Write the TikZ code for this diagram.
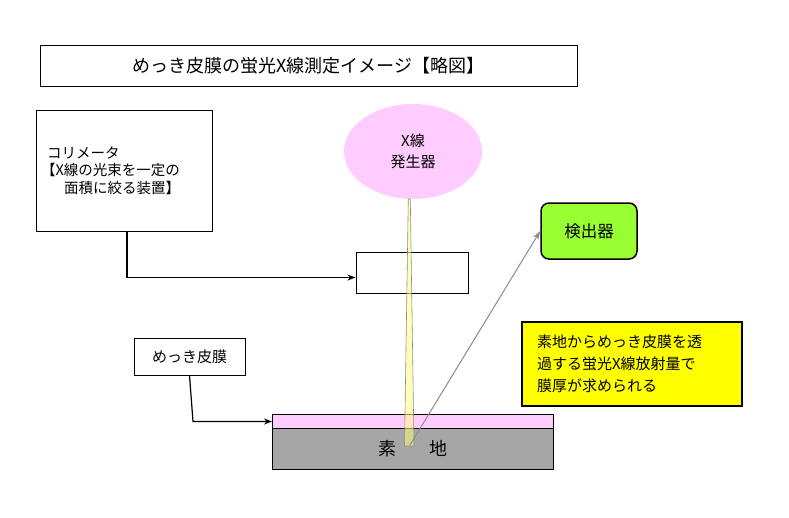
\documentclass[tikz,border=0pt]{standalone}
\usepackage{fontspec}
\setmainfont{Noto Sans CJK JP}
\usetikzlibrary{arrows.meta,shapes.geometric}
\definecolor{pinkfill}{HTML}{FFCCFF}
\definecolor{basegray}{HTML}{A6A6A6}
\definecolor{detgreen}{HTML}{99FF33}
\definecolor{noteyellow}{HTML}{FFFF00}
\definecolor{beamyellow}{HTML}{FFFF80}
\definecolor{linegray}{HTML}{8C8C8C}
\begin{document}
\begin{tikzpicture}[x=1pt,y=-1pt,
  box/.style={draw=black, line width=1pt, fill=white, inner sep=0pt},
  arr/.style={-{Stealth[length=8pt,width=6pt]}, line width=1.2pt, black},
  txt/.style={font=\fontsize{15}{22}\selectfont}]
\useasboundingbox (0,0) rectangle (789,517);
\fill[white] (0,0) rectangle (789,517);

% title
\node[box, minimum width=537, minimum height=41, font=\fontsize{18}{20}\selectfont] (title) at (308.5,65.5) {めっき皮膜の蛍光X線測定イメージ【略図】};

% collimator box
\node[box, minimum width=176, minimum height=121, text width=160, inner xsep=8pt, align=left,
  font=\fontsize{14.5}{17.5}\selectfont] (coll) at (124,170.5)
  {\hspace*{3pt}コリメータ\\\hspace*{-3pt}【X線の光束を一定の\\\hspace*{20pt}面積に絞る装置】\\[3pt]};

% aperture
\node[box, minimum width=112, minimum height=41] (ap) at (412,272.5) {};

% X-ray generator
\node[fill=pinkfill, ellipse, minimum width=138, minimum height=95, inner sep=0pt, align=center,
  font=\fontsize{15}{21}\selectfont] (gen) at (413,151.5) {X線\\発生器};

% detector
\node[draw=black, line width=1.5pt, fill=detgreen, rounded corners=8pt, minimum width=96, minimum height=56,
  font=\fontsize{16.5}{20}\selectfont] (det) at (589,231) {検出器};

% note box
\node[draw=black, line width=2pt, fill=noteyellow, minimum width=220, minimum height=84,
  text width=190, inner xsep=15pt, align=left, txt] (note) at (632,364)
  {素地からめっき皮膜を透\\過する蛍光X線放射量で\\膜厚が求められる};

% plating label
\node[box, minimum width=111, minimum height=37, txt] (mk) at (189.5,356.5) {めっき皮膜};

% layers
\node[draw=black, line width=1pt, fill=pinkfill, minimum width=281, minimum height=14, inner sep=0pt, anchor=north west] (layer) at (272,414) {};
\node[draw=black, line width=1pt, fill=basegray, minimum width=281, minimum height=41, inner sep=0pt, anchor=north west,
  font=\fontsize{18}{20}\selectfont] (base) at (272,428) {素\hspace{1.8em}地};

% beam
\coordinate (btl) at (408.3,199);
\coordinate (btr) at (410.3,199);
\coordinate (bbr) at (414,446);
\coordinate (bbl) at (404.5,446);
\fill[beamyellow, opacity=0.55] (btl) -- (btr) -- (bbr) -- (bbl) -- cycle;
\draw[linegray, line width=0.6pt] (btl) -- (btr) -- (bbr) -- (bbl) -- cycle;

% emission line
\coordinate (emit) at (410,445);
\draw[linegray, line width=1pt, -{Stealth[length=9pt,width=6pt]}] (emit) -- (det.west);

% connectors
\draw[arr] ([xshift=3pt]coll.south) |- ([yshift=-5pt]ap.west);
\coordinate (bx) at (193,0);
\draw[arr] (mk.south) -- (bx |- layer.west) -- (layer.west);
\end{tikzpicture}
\end{document}
